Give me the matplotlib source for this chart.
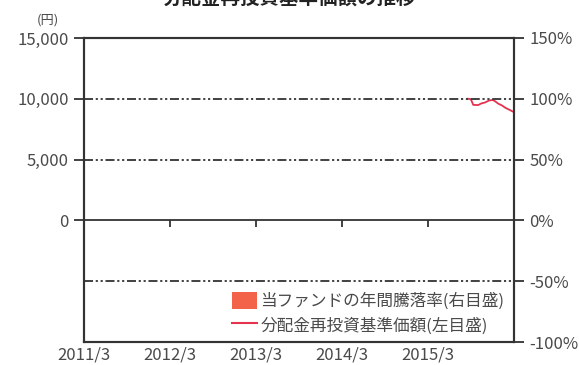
"""
Plot fund NAV (dividends reinvested) and annual return.
"""
import datetime as dt

import matplotlib
matplotlib.use('Agg')
import matplotlib.pyplot as plt
from matplotlib.patches import Patch
from matplotlib.lines import Line2D

# data
nav_dates = ['2015-08-20', '2015-08-31', '2015-09-10', '2015-09-30', '2015-10-15',
             '2015-10-31', '2015-11-15', '2015-11-30', '2015-12-10', '2015-12-25',
             '2016-01-10', '2016-01-25', '2016-02-10', '2016-02-25', '2016-03-10']
nav_values = [10000, 9950, 9500, 9480, 9620, 9700, 9850, 9900, 9820, 9600,
              9450, 9250, 9100, 8950, 8800]
annual_years = []
annual_returns = []

year_ticks = ['2011-03-01', '2012-03-01', '2013-03-01', '2014-03-01', '2015-03-01']
year_labels = ['2011/3', '2012/3', '2013/3', '2014/3', '2015/3']
left_ticks = [15000, 10000, 5000, 0]
left_labels = ['15,000', '10,000', '5,000', '0']
right_ticks = [150, 100, 50, 0, -50, -100]
right_labels = ['150%', '100%', '50%', '0%', '-50%', '-100%']
grid_levels = [100, 50, -50]

title = '分配金再投資基準価額の推移'
bar_label = '当ファンドの年間騰落率(右目盛)'
line_label = '分配金再投資基準価額(左目盛)'

bar_color = '#f2634a'
line_color = '#e5324f'
text_color = '#4a4a4a'
spine_color = '#333333'


def to_date(s):
    return dt.datetime.strptime(s, '%Y-%m-%d')


def main():
    plt.rcParams['font.family'] = ['Noto Sans CJK JP', 'DejaVu Sans']

    fig = plt.figure(figsize=(5.79, 3.65), dpi=100)
    ax = fig.add_axes([0.1451, 0.063, 0.7426, 0.833])
    ax2 = ax.twinx()

    x_start = to_date('2011-03-01')
    x_end = to_date('2016-03-01')

    # right axis: annual return bars + grid lines
    ax2.set_ylim(-100, 150)
    if annual_years:
        ax2.bar([to_date(d) for d in annual_years], annual_returns, width=200, color=bar_color)
    for g in grid_levels:
        ax2.axhline(g, color=spine_color, linewidth=1.3,
                    linestyle=(0, (5, 1.5, 1.2, 1.5, 1.2, 1.5)), zorder=1)
    ax2.set_yticks(right_ticks)
    ax2.set_yticklabels(right_labels)

    # left axis: NAV line
    ax.set_ylim(-10000, 15000)
    ax.set_xlim(x_start, x_end)
    ax.plot([to_date(d) for d in nav_dates], nav_values, color=line_color, linewidth=1.3, zorder=3)
    ax.set_yticks(left_ticks)
    ax.set_yticklabels(left_labels)
    ax.set_xticks([to_date(d) for d in year_ticks])
    ax.set_xticklabels(year_labels)
    ax.tick_params(axis='x', length=0, pad=3)

    # zero line with year ticks
    zero = ax.secondary_xaxis(0.4)
    zero.set_xticks([to_date(d) for d in year_ticks[1:]])
    zero.set_xticklabels([])
    zero.tick_params(axis='x', direction='out', length=5, width=1.3, color=spine_color)
    zero.spines['bottom'].set_color(spine_color)
    zero.spines['bottom'].set_linewidth(1.3)

    for a in (ax, ax2):
        for s in a.spines.values():
            s.set_color(spine_color)
            s.set_linewidth(1.5)
        a.tick_params(axis='y', direction='out', length=7, width=1.3, color=spine_color,
                      labelsize=12, labelcolor=text_color, pad=4)
    ax.tick_params(axis='x', labelsize=12, labelcolor=text_color)

    fig.text(0.083, 0.926, '(円)', fontsize=9.5, color=text_color, ha='center', va='bottom')
    fig.text(0.5, 0.978, title, fontsize=14, color='#222222', ha='center', va='bottom',
             fontweight='bold')

    handles = [Patch(facecolor=bar_color, edgecolor='none'),
               Line2D([0], [0], color=line_color, linewidth=1.5)]
    ax.legend(handles, [bar_label, line_label], loc='lower right', frameon=False,
              fontsize=12, labelcolor=text_color, handlelength=1.5, handleheight=1.2,
              handletextpad=0.2, labelspacing=0.4, borderaxespad=0.05,
              bbox_to_anchor=(0.995, 0.0))

    plt.savefig('out.png', dpi=100)


if __name__ == '__main__':
    main()
